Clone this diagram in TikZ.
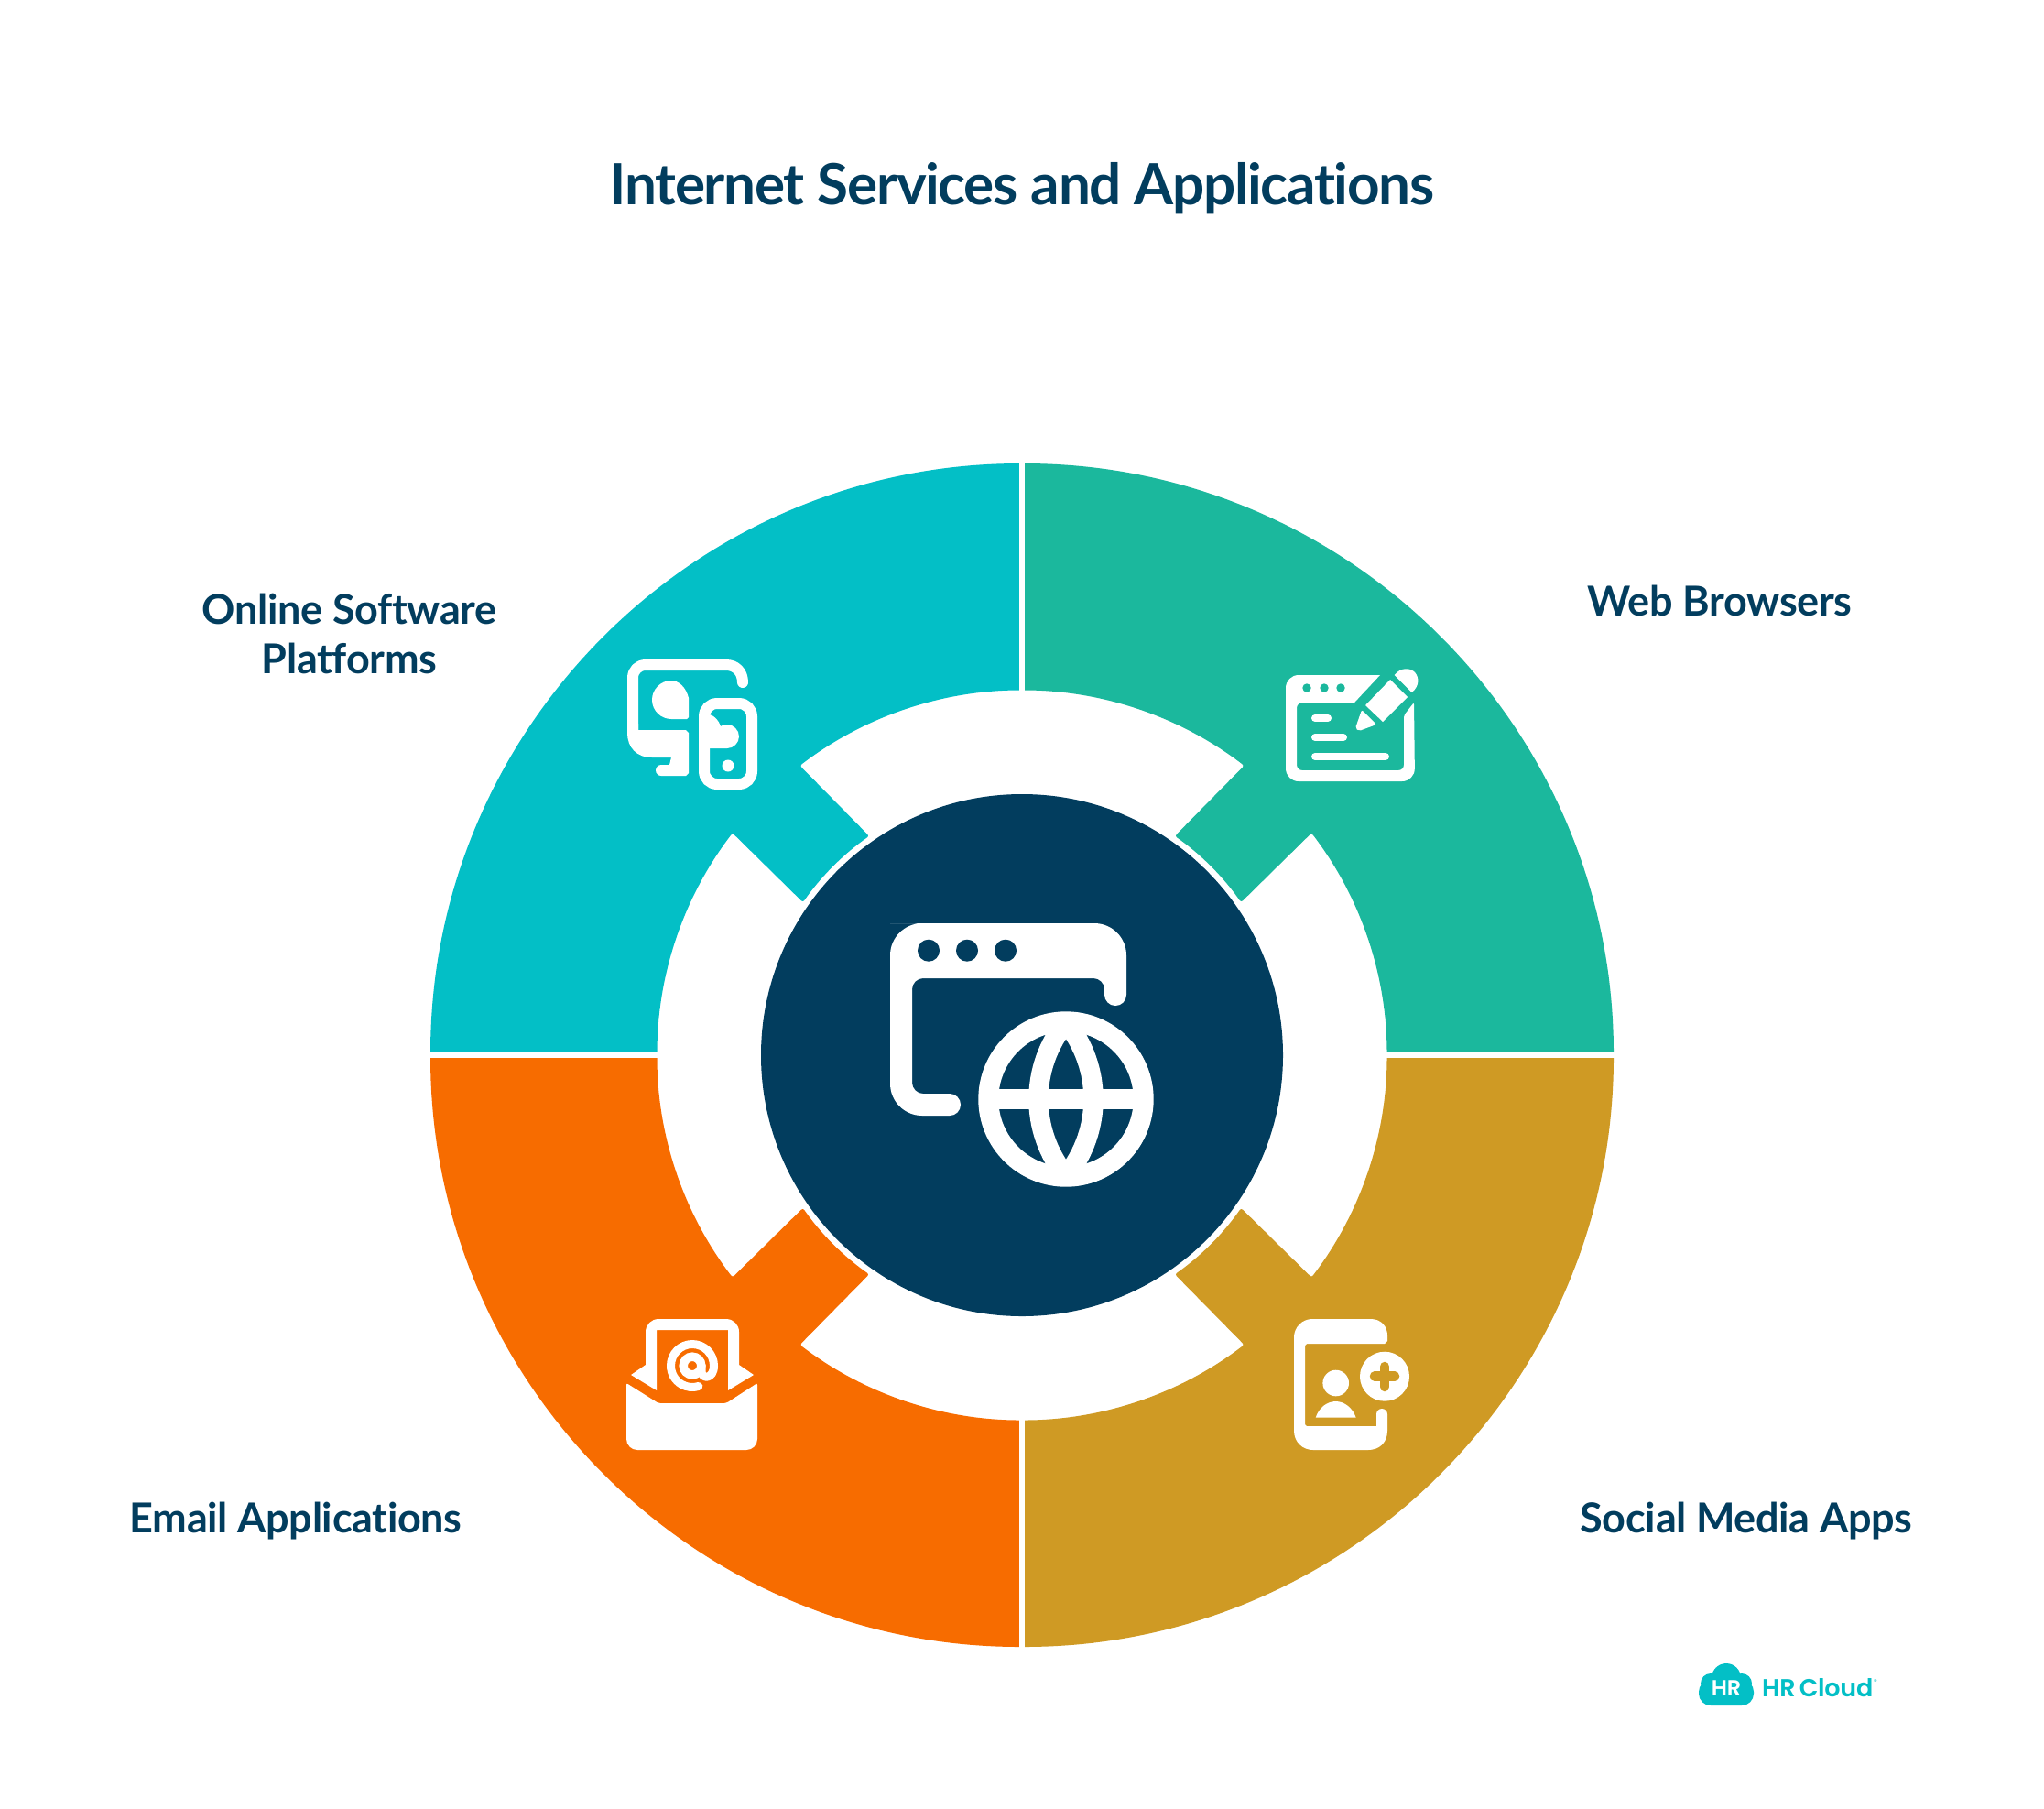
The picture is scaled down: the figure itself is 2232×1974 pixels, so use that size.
\documentclass[tikz,border=0pt]{standalone}
\usepackage{fontspec}
\setmainfont{Lato}
\newfontfamily\logofont[LetterSpace=-1]{Poppins SemiBold}
\newfontfamily\logomarkfont{Poppins Medium}
\newfontfamily\titlefont[LetterSpace=-2.1,Ligatures=NoCommon]{Lato Bold}
\newfontfamily\labelfont[LetterSpace=-0.7,Ligatures=NoCommon]{Lato Bold}
\definecolor{cCyan}{HTML}{03BFC6}
\definecolor{cTeal}{HTML}{1BB89D}
\definecolor{cGold}{HTML}{CF9A24}
\definecolor{cOrange}{HTML}{F76C00}
\definecolor{cNavy}{HTML}{023D5E}
\tikzset{
  titletext/.style={inner sep=0pt,anchor=base,text=cNavy,font=\titlefont\fontsize{62}{70}\selectfont},
  labeltext/.style={inner sep=0pt,anchor=base,text=cNavy,font=\labelfont\fontsize{45}{50}\selectfont},
  roundline/.style={draw=white,line cap=round,line join=round},
}
\newcommand{\quadrant}[2]{%
  \fill[#1,rounded corners=2.5pt] (1116,1152) ++(#2:646) arc[start angle=#2,end angle=#2+90,radius=646]
    -- ($(1116,1152)+(#2+90:398.5)$) arc[start angle=#2+90,end angle=#2+52.5,radius=398.5]
    -- ($(1116,1152)+(#2+55.1:291.7)$) arc[start angle=#2+55.1,end angle=#2+34.9,radius=291.7]
    -- ($(1116,1152)+(#2+37.5:398.5)$) arc[start angle=#2+37.5,end angle=#2,radius=398.5] -- cycle;}
\usetikzlibrary{calc}
\begin{document}
\begin{tikzpicture}[x=1pt,y=-1pt]
\useasboundingbox (0,0) rectangle (2232,1974);
\fill[white] (0,0) rectangle (2232,1974);
% ring
\quadrant{cCyan}{180}
\quadrant{cTeal}{270}
\quadrant{cGold}{0}
\quadrant{cOrange}{90}
\fill[white] (1113.3,500) rectangle (1119,1800);
\fill[white] (460,1149.2) rectangle (1772,1154.9);
\fill[cNavy] (1116,1152) circle (285);
% centre icon
\fill[white,rounded corners=12pt] (1007,1008) [rounded corners=35pt] -- (1230,1008) [rounded corners=0pt] -- (1230,1086)
  arc[start angle=0,end angle=180,radius=12] [rounded corners=12pt] -- (1206,1068) -- (996,1068) -- (996,1194) [rounded corners=0pt] -- (1037,1194)
  arc[start angle=-90,end angle=90,radius=12] [rounded corners=35pt] -- (972,1218) -- (972,1008) -- cycle;
\foreach \x in {1014,1056,1098} \fill[cNavy] (\x,1037.7) circle (12);
\begin{scope}
  \clip (1164,1200) circle (90);
  \draw[white,line width=21.5pt] (1164,1116) .. controls (1124,1165) and (1124,1235) .. (1164,1284);
  \draw[white,line width=21.5pt] (1164,1116) .. controls (1204,1165) and (1204,1235) .. (1164,1284);
  \draw[white,line width=21.5pt] (1070,1200) -- (1258,1200);
\end{scope}
\draw[white,line width=22pt] (1164,1200) circle (84.7);
% cyan icon
\draw[roundline,line width=12pt] (811,745) .. controls (811,733) and (803,726) .. (793,726) -- (705,726) .. controls (697,726) and (691,732) .. (691,740) -- (691,800);
\fill[white] (685,790) -- (685,800) .. controls (685,816) and (695,827) .. (712,827) -- (733,827) -- (731,835) -- (722,835)
  arc[start angle=-90,end angle=-270,radius=6] -- (749,847) -- (752,844) -- (752,800) -- (749,797) -- (697,797) -- (697,790) -- cycle;
\fill[white] (752,762) .. controls (749,750) and (741,743) .. (733,743) .. controls (721,743) and (712,753) .. (712,764)
  .. controls (712,776) and (722,785) .. (733,785) -- (750,785) -- (752,783) -- cycle;
\draw[white,line width=12pt,rounded corners=14pt] (769,768) rectangle (821,856);
\fill[white] (775,780) .. controls (781,782) and (785,787) .. (787,793) .. controls (789,791) and (791,791) .. (794,791)
  .. controls (801,791) and (807,797) .. (807,804) .. controls (807,811) and (801,817) .. (794,817) -- (775,817) -- cycle;
\fill[white] (795,836) circle (6.5);
% teal icon
\fill[white] (1418,737) -- (1507,737) -- (1479,767) [rounded corners=6pt] -- (1416,767) -- (1416,841) -- (1533,841) [rounded corners=2pt] -- (1533,781) -- (1544,767) [rounded corners=14pt] -- (1545,853) -- (1404,853) -- (1404,737) [rounded corners=0pt] -- cycle;
\foreach \x in {1427,1446,1464} \fill[cTeal] (\x,751) circle (4.7);
\draw[roundline,line width=8pt] (1436,784) -- (1450,784);
\draw[roundline,line width=8pt] (1436,805) -- (1467,805);
\draw[roundline,line width=8pt] (1436,826) -- (1513,826);
\fill[white] (1518,742) -- (1537,761) -- (1510,788) -- (1491,770) -- cycle;
\fill[white] (1522.5,737) .. controls (1530,728) and (1540,729) .. (1545,734) .. controls (1550,740) and (1550,749) .. (1541.7,756) -- cycle;
\fill[white,rounded corners=2pt] (1487,775) -- (1503,791) -- (1484,798) -- (1480,795) -- cycle;
% orange icon
\fill[white] (717,1452) -- (717,1518) -- (689,1501) -- (705,1490) [rounded corners=14pt] -- (705,1440) -- (807,1440) [rounded corners=0pt] -- (807,1490) -- (823,1501) -- (795,1518) -- (795,1452) -- cycle;
\fill[white,rounded corners=2pt] (684,1510) -- (719,1532) -- (793,1532) -- (827,1510) [rounded corners=12pt] -- (827,1583) -- (684,1583) [rounded corners=2pt] -- cycle;
\draw[white,line width=9.5pt] (756,1491) circle (9.8);
\draw[roundline,line width=9pt] (766,1490) -- (766,1497) .. controls (766,1506) and (779.5,1506) .. (779.5,1491)
  arc[start angle=0,end angle=-287,radius=23.5];
% gold icon
\fill[white] (1433,1440) -- (1497,1440) .. controls (1508,1440) and (1515,1448) .. (1515,1458) -- (1515,1464) -- (1512,1467) -- (1427,1467) -- (1425,1469) -- (1425,1555) -- (1427,1557) -- (1503,1557) -- (1503,1544)
  arc[start angle=180,end angle=360,radius=6] -- (1515,1562) .. controls (1515,1575) and (1506,1583) .. (1494,1583) -- (1434,1583) .. controls (1422,1583) and (1413,1574) .. (1413,1562) -- (1413,1460) .. controls (1413,1449) and (1422,1440) .. (1433,1440) -- cycle;
\fill[white] (1458.7,1510) circle (14.3);
\fill[white] (1436.7,1547.7) .. controls (1440,1537) and (1449,1530) .. (1458.7,1530) .. controls (1468,1530) and (1477,1537) .. (1480.7,1547.7) -- cycle;
\fill[white] (1512,1502.7) circle (27);
\draw[cGold,line width=10.5pt,line cap=round] (1501,1502.7) -- (1523,1502.7);
\draw[cGold,line width=10.5pt,line cap=round] (1512,1492) -- (1512,1514);
% logo
\fill[cCyan] (1885,1832) circle (16);
\fill[cCyan] (1868,1838) circle (11);
\fill[cCyan] (1902,1838) circle (11);
\fill[cCyan,rounded corners=13pt] (1855,1834) rectangle (1915,1862);
\node[inner sep=0pt,anchor=base,text=white,font=\logofont\fontsize{24}{26}\selectfont] (logoHR) at (1885,1851) {HR};
\node[inner sep=0pt,anchor=base west,text=cCyan,font=\logofont\fontsize{27}{30}\selectfont] (logoname) at (1924,1852) {HR\hspace{-2pt} Cloud};
\node[inner sep=0pt,anchor=base,text=cCyan,font=\logomarkfont\fontsize{7}{9}\selectfont] (logomark) at (2048,1838) {®};
% text
\node[titletext] (title) at (1116,223) {Internet Services and Applications};
\node[labeltext] (ol1) at (381.5,681) {Online Software};
\node[labeltext] (ol2) at (381.5,735) {Platforms};
\node[labeltext] (web) at (1878,672) {Web Browsers};
\node[labeltext] (email) at (323,1673) {Email Applications};
\node[labeltext] (social) at (1907,1673) {Social Media Apps};
\end{tikzpicture}
\end{document}
